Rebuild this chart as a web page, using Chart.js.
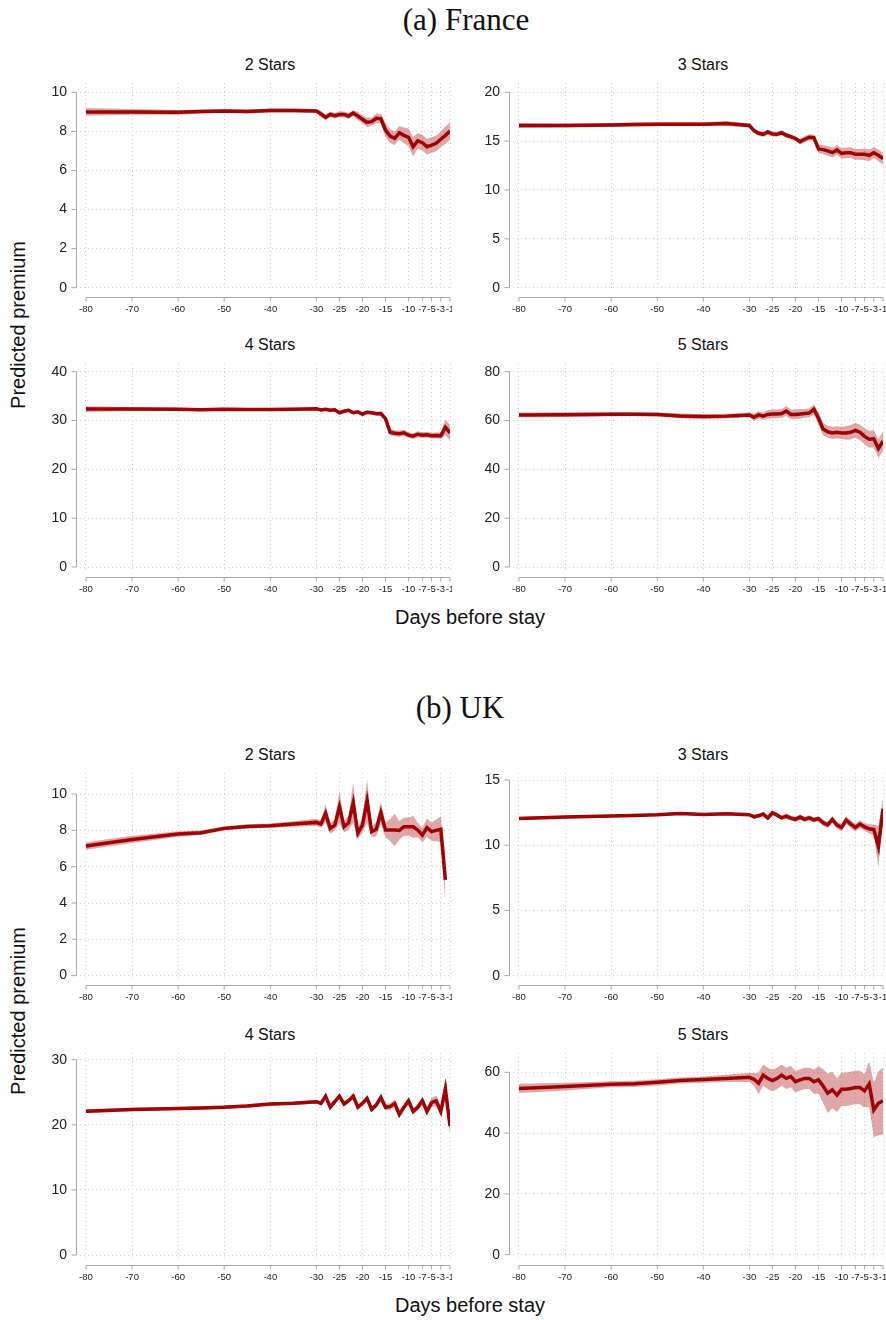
<!DOCTYPE html>
<html>
<head>
<meta charset="utf-8">
<script src="https://cdn.jsdelivr.net/npm/chart.js@4.4.1/dist/chart.umd.min.js"></script>
<style>
  body { margin: 0; background: #fff; }
  #page { position: relative; width: 886px; height: 1320px; overflow: hidden; font-family: "Liberation Sans", Arial, sans-serif; color: #111; }
  canvas { position: absolute; }
  .txt { position: absolute; transform: translate(-50%, -50%); white-space: nowrap; line-height: 1; }
  .main { font-family: "Liberation Serif", "DejaVu Serif", serif; font-size: 31px; }
  .ptitle { font-size: 16px; }
  .axt { font-size: 20px; }
  .rot { transform: translate(-50%, -50%) rotate(-90deg); }
</style>
</head>
<body>
<div id="page">
  <div class="txt main" style="left:466px; top:19px;">(a) France</div>
  <div class="txt main" style="left:460px; top:707px;">(b) UK</div>
  <div class="txt axt rot" style="left:18px; top:325px;">Predicted premium</div>
  <div class="txt axt rot" style="left:18px; top:1011px;">Predicted premium</div>
  <div class="txt axt" style="left:470px; top:617px;">Days before stay</div>
  <div class="txt axt" style="left:470px; top:1305px;">Days before stay</div>
</div>
<script>
// days before stay (x values) and the ticks shown on the axis
const days = [-80, -70, -60, -55, -50, -45, -40, -35, -30,
  -29, -28, -27, -26, -25, -24, -23, -22, -21, -20, -19, -18, -17, -16,
  -15, -14, -13, -12, -11, -10, -9, -8, -7, -6, -5, -4, -3, -2, -1];
const xTicks = [-80, -70, -60, -50, -40, -30, -25, -20, -15, -10, -7, -5, -3, -1];

// France
const fr2Mean = [9.0, 9.0, 8.98, 9.02, 9.04, 9.02, 9.07, 9.07, 9.05,
  8.89, 8.72, 8.87, 8.81, 8.87, 8.87, 8.79, 8.94, 8.79, 8.62, 8.46, 8.5, 8.67, 8.65,
  8.07, 7.76, 7.65, 7.93, 7.8, 7.7, 7.22, 7.52, 7.42, 7.22, 7.3, 7.39, 7.6, 7.8, 8.02];
const fr2Err = [0.2, 0.15, 0.12, 0.1, 0.1, 0.1, 0.1, 0.1, 0.1,
  0.15, 0.15, 0.15, 0.15, 0.15, 0.15, 0.15, 0.15, 0.2, 0.2, 0.25, 0.2, 0.25, 0.25,
  0.35, 0.35, 0.35, 0.35, 0.4, 0.45, 0.5, 0.4, 0.4, 0.4, 0.4, 0.4, 0.4, 0.45, 0.45];

const fr3Mean = [16.6, 16.6, 16.65, 16.7, 16.72, 16.72, 16.72, 16.8, 16.6,
  16.07, 15.8, 15.7, 15.94, 15.73, 15.7, 15.87, 15.6, 15.46, 15.26, 14.95, 15.19, 15.4, 15.36,
  14.2, 14.13, 14.0, 13.82, 14.1, 13.75, 13.8, 13.82, 13.65, 13.65, 13.65, 13.55, 13.82, 13.55, 13.2];
const fr3Err = [0.25, 0.2, 0.2, 0.2, 0.2, 0.2, 0.2, 0.25, 0.2,
  0.25, 0.25, 0.25, 0.25, 0.25, 0.25, 0.25, 0.25, 0.25, 0.25, 0.3, 0.3, 0.3, 0.3,
  0.45, 0.45, 0.5, 0.5, 0.5, 0.55, 0.55, 0.55, 0.55, 0.55, 0.6, 0.6, 0.55, 0.6, 0.6];

const fr4Mean = [32.35, 32.35, 32.3, 32.2, 32.3, 32.25, 32.25, 32.3, 32.4,
  32.15, 32.3, 32.1, 32.2, 31.6, 31.9, 32.1, 31.6, 31.8, 31.3, 31.7, 31.6, 31.4, 31.45,
  30.4, 27.6, 27.4, 27.3, 27.5, 27.0, 26.8, 27.2, 27.0, 27.1, 26.9, 26.95, 26.9, 28.6, 27.5];
const fr4Err = [0.6, 0.4, 0.3, 0.3, 0.3, 0.3, 0.3, 0.3, 0.3,
  0.3, 0.3, 0.3, 0.3, 0.35, 0.35, 0.35, 0.35, 0.35, 0.35, 0.35, 0.35, 0.35, 0.4,
  0.5, 0.6, 0.6, 0.6, 0.6, 0.6, 0.6, 0.6, 0.6, 0.6, 0.6, 0.6, 0.7, 1.6, 1.6];

const fr5Mean = [62.25, 62.4, 62.6, 62.6, 62.5, 61.9, 61.6, 61.8, 62.3,
  61.3, 62.3, 61.8, 62.5, 62.7, 62.7, 62.9, 63.9, 62.5, 62.5, 62.7, 62.9, 63.1, 64.6,
  60.9, 56.5, 55.4, 54.9, 55.2, 54.9, 54.9, 55.2, 56.0, 55.2, 53.5, 52.3, 52.5, 48.5, 51.5];
const fr5Err = [1.0, 1.0, 0.8, 0.8, 0.8, 1.0, 1.0, 1.0, 1.0,
  1.5, 1.5, 1.5, 1.8, 1.8, 1.8, 1.8, 2.0, 2.0, 2.0, 2.0, 1.8, 1.8, 2.0,
  2.5, 2.5, 2.5, 2.5, 2.5, 2.5, 2.8, 3.0, 3.0, 3.2, 3.2, 3.5, 3.5, 3.8, 4.0];

// UK
const uk2Mean = [7.14, 7.5, 7.8, 7.87, 8.11, 8.22, 8.26, 8.35, 8.44,
  8.35, 8.94, 8.11, 8.29, 9.3, 8.2, 8.42, 9.52, 7.84, 8.29, 9.63, 7.93, 8.06, 8.97,
  8.02, 8.02, 8.02, 8.0, 8.2, 8.2, 8.2, 8.02, 7.74, 8.15, 7.93, 8.0, 8.06, 5.27, null];
const uk2Err = [0.2, 0.2, 0.15, 0.12, 0.12, 0.12, 0.12, 0.15, 0.2,
  0.2, 0.5, 0.3, 0.3, 0.9, 0.3, 0.4, 1.1, 0.3, 0.4, 1.2, 0.3, 0.4, 0.6,
  0.4, 0.6, 0.9, 0.5, 0.5, 0.5, 0.6, 0.4, 0.4, 0.5, 0.5, 0.6, 0.7, 1.3, null];

const uk3Mean = [12.06, 12.16, 12.24, 12.29, 12.34, 12.44, 12.36, 12.41, 12.34,
  12.18, 12.26, 12.39, 12.08, 12.49, 12.31, 12.1, 12.24, 12.08, 11.98, 12.16, 11.98, 12.1, 11.95,
  12.03, 11.72, 11.57, 11.98, 11.54, 11.36, 11.93, 11.62, 11.36, 11.62, 11.41, 11.26, 11.2, 9.9, 12.8];
const uk3Err = [0.12, 0.1, 0.1, 0.1, 0.1, 0.1, 0.1, 0.1, 0.1,
  0.15, 0.15, 0.15, 0.15, 0.2, 0.15, 0.15, 0.2, 0.2, 0.2, 0.2, 0.2, 0.2, 0.2,
  0.2, 0.25, 0.25, 0.25, 0.25, 0.3, 0.3, 0.3, 0.3, 0.3, 0.3, 0.35, 0.4, 1.6, 0.8];

const uk4Mean = [22.1, 22.37, 22.5, 22.6, 22.7, 22.9, 23.2, 23.3, 23.55,
  23.3, 24.4, 22.7, 23.55, 24.4, 23.2, 23.7, 24.4, 22.7, 23.3, 24.06, 22.37, 23.04, 24.2,
  22.7, 22.8, 23.3, 21.6, 22.7, 23.7, 22.06, 22.7, 23.7, 22.06, 23.4, 23.7, 22.06, 25.5, 19.8];
const uk4Err = [0.3, 0.25, 0.25, 0.25, 0.25, 0.25, 0.25, 0.25, 0.3,
  0.3, 0.4, 0.4, 0.4, 0.4, 0.4, 0.4, 0.4, 0.4, 0.4, 0.4, 0.4, 0.4, 0.4,
  0.5, 0.5, 0.5, 0.5, 0.5, 0.5, 0.5, 0.5, 0.6, 0.6, 0.7, 0.8, 0.7, 1.8, 1.2];

const uk5Mean = [54.7, 55.3, 56.05, 56.2, 56.7, 57.3, 57.6, 58.0, 58.35,
  57.7, 56.4, 59.1, 58.0, 57.3, 58.0, 59.1, 58.0, 58.6, 56.9, 57.5, 58.0, 58.0, 56.9,
  57.5, 55.5, 53.1, 54.2, 52.5, 54.4, 54.4, 54.7, 55.0, 55.0, 53.9, 56.2, 47.6, 49.8, 50.6];
const uk5Err = [1.5, 1.3, 1.0, 1.0, 1.0, 1.0, 1.0, 1.2, 1.5,
  2.0, 3.5, 3.5, 3.5, 3.5, 3.5, 3.5, 3.5, 3.5, 3.5, 3.5, 3.5, 3.5, 4.0,
  4.5, 5.5, 6.5, 6.0, 5.5, 5.5, 5.5, 5.5, 5.5, 5.5, 5.5, 7.5, 9.0, 10.5, 11.0];

const LINE = '#9c0000';
const BAND = 'rgba(165, 10, 10, 0.36)';
const GRID = '#cfcfcf';
const AXIS = '#a8a8a8';

// two columns of panels
const cols = [
  { left: 0, width: 452, yW: 80, titleX: 270 },
  { left: 452, width: 434, yW: 61, titleX: 703 }
];
// four rows of panels
const rows = [
  { top: 50, h: 270, padTop: 33, xH: 30 },
  { top: 330, h: 270, padTop: 34, xH: 30.5 },
  { top: 740, h: 270, padTop: 33, xH: 32 },
  { top: 1020, h: 270, padTop: 33, xH: 32.5 }
];

const panels = [
  { title: '2 Stars', mean: fr2Mean, err: fr2Err, col: 0, row: 0, yMin: -0.12, yMax: 10.48, yTicks: [0, 2, 4, 6, 8, 10] },
  { title: '3 Stars', mean: fr3Mean, err: fr3Err, col: 1, row: 0, yMin: -0.24, yMax: 20.95, yTicks: [0, 5, 10, 15, 20] },
  { title: '4 Stars', mean: fr4Mean, err: fr4Err, col: 0, row: 1, yMin: -0.51, yMax: 41.58, yTicks: [0, 10, 20, 30, 40] },
  { title: '5 Stars', mean: fr5Mean, err: fr5Err, col: 1, row: 1, yMin: -1.02, yMax: 83.15, yTicks: [0, 20, 40, 60, 80] },
  { title: '2 Stars', mean: uk2Mean, err: uk2Err, col: 0, row: 2, yMin: -0.13, yMax: 11.16, yTicks: [0, 2, 4, 6, 8, 10] },
  { title: '3 Stars', mean: uk3Mean, err: uk3Err, col: 1, row: 2, yMin: -0.18, yMax: 15.54, yTicks: [0, 5, 10, 15] },
  { title: '4 Stars', mean: uk4Mean, err: uk4Err, col: 0, row: 3, yMin: -0.38, yMax: 31.03, yTicks: [0, 10, 20, 30] },
  { title: '5 Stars', mean: uk5Mean, err: uk5Err, col: 1, row: 3, yMin: -0.92, yMax: 66.35, yTicks: [0, 20, 40, 60] }
];

// Stata-style axis lines, drawn only between the first and last ticks, set off from the plot area
const axisLines = {
  id: 'axisLines',
  afterDraw(chart) {
    const { ctx, chartArea, scales } = chart;
    const xs = scales.x, ys = scales.y;
    ctx.save();
    ctx.strokeStyle = AXIS;
    ctx.lineWidth = 1;
    ctx.setLineDash([]);
    ctx.beginPath();
    const ax = Math.round(chartArea.left - 4) + 0.5;
    const yp = ys.ticks.map(t => ys.getPixelForValue(t.value));
    ctx.moveTo(ax, Math.min(...yp));
    ctx.lineTo(ax, Math.max(...yp));
    yp.forEach(p => { ctx.moveTo(ax - 5, p); ctx.lineTo(ax, p); });
    const ay = Math.round(chartArea.bottom + 7) + 0.5;
    const xp = xs.ticks.map(t => xs.getPixelForValue(t.value));
    ctx.moveTo(Math.min(...xp), ay);
    ctx.lineTo(Math.max(...xp), ay);
    xp.forEach(p => { ctx.moveTo(p, ay); ctx.lineTo(p, ay + 4); });
    ctx.stroke();
    ctx.restore();
  }
};

Chart.defaults.font.family = '"Liberation Sans", Arial, sans-serif';
Chart.defaults.color = '#222';

const page = document.getElementById('page');

panels.forEach(p => {
  const c = cols[p.col], r = rows[p.row];

  const t = document.createElement('div');
  t.className = 'txt ptitle';
  t.style.left = c.titleX + 'px';
  t.style.top = (r.top + 15) + 'px';
  t.textContent = p.title;
  page.appendChild(t);

  const cv = document.createElement('canvas');
  cv.width = c.width;
  cv.height = r.h;
  cv.style.left = c.left + 'px';
  cv.style.top = r.top + 'px';
  page.appendChild(cv);

  const meanPts = days.map((d, i) => ({ x: d, y: p.mean[i] }));
  const loPts = days.map((d, i) => ({ x: d, y: p.mean[i] == null ? null : p.mean[i] - p.err[i] }));
  const hiPts = days.map((d, i) => ({ x: d, y: p.mean[i] == null ? null : p.mean[i] + p.err[i] }));

  new Chart(cv, {
    type: 'line',
    data: {
      datasets: [
        { data: loPts, borderColor: 'rgba(0,0,0,0)', borderWidth: 0, pointRadius: 0, fill: false },
        { data: hiPts, borderColor: 'rgba(0,0,0,0)', borderWidth: 0, pointRadius: 0, fill: '-1', backgroundColor: BAND },
        { data: meanPts, borderColor: LINE, borderWidth: 3.5, pointRadius: 0, fill: false, tension: 0 }
      ]
    },
    options: {
      responsive: false,
      animation: false,
      devicePixelRatio: 1,
      layout: { padding: { top: r.padTop, right: c.width - c.yW - 370, bottom: 0, left: 0 } },
      plugins: { legend: { display: false }, tooltip: { enabled: false }, title: { display: false } },
      scales: {
        x: {
          type: 'linear',
          min: -81.3,
          max: -1,
          afterBuildTicks: s => { s.ticks = xTicks.map(v => ({ value: v })); },
          afterFit: s => { s.height = r.xH; s.paddingLeft = 0; s.paddingRight = 0; },
          grid: { color: GRID, lineWidth: 1, drawTicks: false },
          border: { display: false, dash: [1, 3] },
          ticks: { autoSkip: false, maxRotation: 0, minRotation: 0, padding: 14, font: { size: 9.5 }, color: '#222' }
        },
        y: {
          min: p.yMin,
          max: p.yMax,
          afterBuildTicks: s => { s.ticks = p.yTicks.map(v => ({ value: v })); },
          afterFit: s => { s.width = c.yW; s.paddingTop = 0; s.paddingBottom = 0; },
          grid: { color: GRID, lineWidth: 1, drawTicks: false },
          border: { display: false, dash: [1, 3] },
          ticks: { padding: 13, font: { size: 14 }, color: '#222' }
        }
      }
    },
    plugins: [axisLines]
  });
});
</script>
</body>
</html>
